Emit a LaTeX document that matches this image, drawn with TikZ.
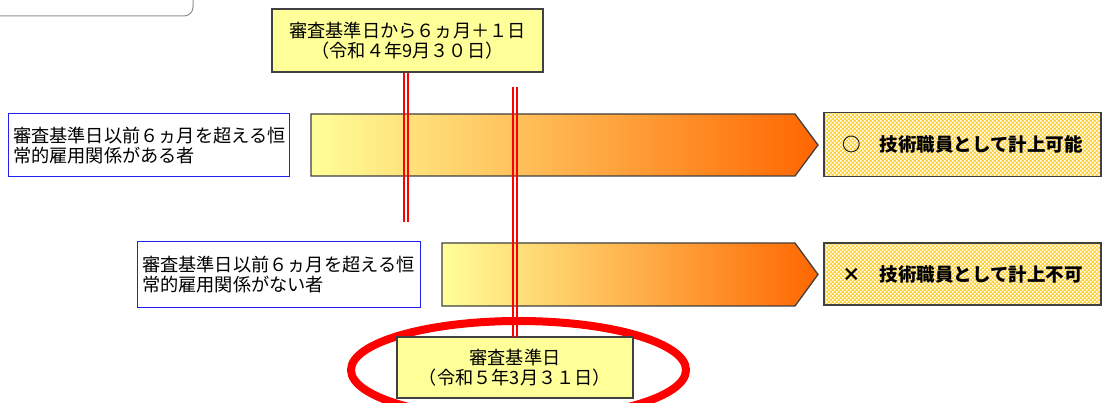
\documentclass[tikz,border=0pt]{standalone}
\usepackage{fontspec}
\setmainfont{Noto Sans CJK JP}
\definecolor{boxyellow}{HTML}{FFFF99}
\definecolor{edgegray}{HTML}{404040}
\definecolor{framegray}{HTML}{909090}
\definecolor{arrorange}{HTML}{FF6600}
\definecolor{patyellow}{HTML}{FFD43A}
\definecolor{condblue}{HTML}{2020F0}
\definecolor{linered}{HTML}{FF0000}
\begin{document}
\begin{tikzpicture}[x=1pt,y=-1pt,
  jtext/.style={font=\fontsize{18.2}{20}\selectfont},
  datebox/.style={jtext, draw=edgegray, line width=1.3pt, fill=boxyellow, inner sep=0pt, align=center},
  condbox/.style={jtext, draw=condblue, line width=1pt, fill=white, inner ysep=0pt, inner xsep=5pt, align=left},
  resbox/.style={draw=edgegray, line width=1.3pt, inner sep=0pt, minimum width=277pt, minimum height=64pt,
     font=\bfseries\fontsize{18.5}{20}\selectfont},
  timearrow/.style={draw=edgegray, line width=1.3pt, left color=boxyellow, right color=arrorange},
  redbar/.style={fill=linered},
  ring/.style={draw=red, line width=8pt}
]
\useasboundingbox (0,0) rectangle (1102,403);
\clip (0,0) rectangle (1102,403);

% partial frame at top-left
\node[draw=framegray, line width=1pt, rounded corners=9pt, minimum width=240pt, minimum height=60pt, inner sep=0pt] (frame) at (73,-14) {};

% date box at top
\node[datebox, minimum width=271pt, minimum height=63pt] (top) at (407.5,40.5)
  {審査基準日から６ヵ月＋１日\\（令和４年9月３０日）};

% condition boxes
\node[condbox, text width=271pt, minimum height=63pt] (cond1) at (148.5,145.5)
  {審査基準日以前６ヵ月を超える恒\\常的雇用関係がある者};
\node[condbox, text width=273pt, minimum height=65pt] (cond2) at (278.5,274.5)
  {審査基準日以前６ヵ月を超える恒\\常的雇用関係がない者};

% arrows
\path[timearrow] (311,114) -- (795,114) -- (818,145) -- (795,176) -- (311,176) -- cycle;
\path[timearrow] (442,243) -- (795,243) -- (818,274.5) -- (795,306) -- (442,306) -- cycle;

% checkered backgrounds of result boxes
\fill[patyellow] (824,112) rectangle (1101,177);
\fill[patyellow] (824,243) rectangle (1101,305);
\begin{scope}
\clip (824,112) rectangle (1101,177);
\fill[white] \foreach \i in {0,...,69} { \foreach \j in {0,...,16} {
   (824+4*\i,112+4*\j) rectangle +(1.6,1.6) (826+4*\i,114+4*\j) rectangle +(1.6,1.6) } };
\end{scope}
\begin{scope}
\clip (824,243) rectangle (1101,305);
\fill[white] \foreach \i in {0,...,69} { \foreach \j in {0,...,15} {
   (824+4*\i,243+4*\j) rectangle +(1.6,1.6) (826+4*\i,245+4*\j) rectangle +(1.6,1.6) } };
\end{scope}

% result boxes
\node[resbox] (res1) at (962.5,144.5) {○　技術職員として計上可能};
\node[resbox, minimum height=62pt] (res2) at (962.5,274) {×　技術職員として計上不可};

% red ring
\draw[ring] (518.5,370) ellipse [x radius=167.5, y radius=49];

% base date box
\node[datebox, minimum width=236pt, minimum height=61pt] (base) at (515,367.5)
  {審査基準日\\（令和５年3月３１日）};

% red double lines (thin filled bars)
\coordinate (l1a) at (402.9,72.7);  \coordinate (l1b) at (404.5,222);
\coordinate (l2a) at (407.0,72.7);  \coordinate (l2b) at (408.6,222);
\coordinate (r1a) at (512.4,87);    \coordinate (r1b) at (514.0,337);
\coordinate (r2a) at (516.4,87);    \coordinate (r2b) at (518.0,337);
\fill[redbar] (r1a) rectangle (r1b);
\fill[redbar] (r2a) rectangle (r2b);
\fill[redbar] (l2a) rectangle (l2b);
\fill[redbar] (l1a) rectangle (l1b);
\end{tikzpicture}
\end{document}
